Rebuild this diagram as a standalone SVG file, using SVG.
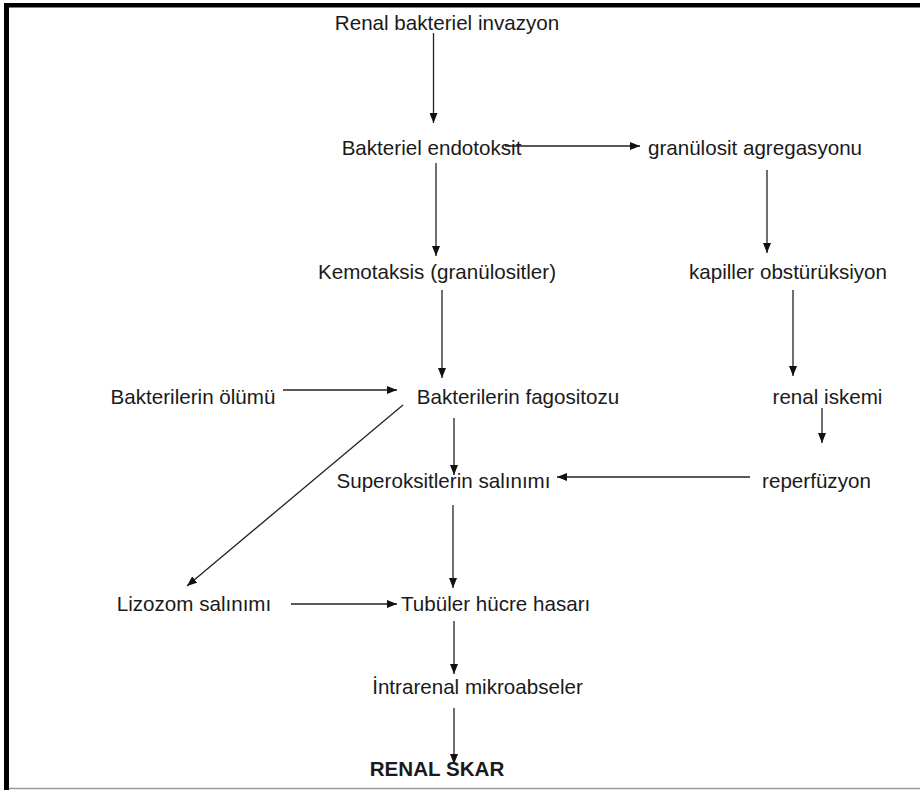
<svg xmlns="http://www.w3.org/2000/svg" width="920" height="790" viewBox="0 0 920 790">
<defs>
<marker id="ah" viewBox="0 0 10 8" refX="10" refY="4" markerWidth="10" markerHeight="8" markerUnits="userSpaceOnUse" orient="auto">
<path d="M0,0 L10,4 L0,8 Z" fill="#111"/>
</marker>
<style>
text{font-family:"Liberation Sans",Arial,sans-serif;font-size:20.6px;fill:#1a1a1a;}
.b{font-weight:bold;}
.c line{stroke:#222;stroke-width:1.3;marker-end:url(#ah);}
</style>
</defs>
<rect width="920" height="790" fill="#fff"/>
<g id="frame">
<rect x="4" y="3" width="916" height="4.5" fill="#000"/>
<rect x="4" y="3" width="5" height="787" fill="#000"/>
<line x1="9" y1="788.5" x2="920" y2="788.5" stroke="#999" stroke-width="1.5"/>
</g>
<g class="c" id="connectors">
<line x1="433.5" y1="33" x2="433.5" y2="123"/>
<line x1="505" y1="146" x2="640" y2="146"/>
<line x1="436" y1="163" x2="436" y2="256"/>
<line x1="767" y1="170" x2="767" y2="253"/>
<line x1="442" y1="290" x2="442" y2="378"/>
<line x1="793" y1="290" x2="793" y2="376"/>
<line x1="283" y1="390" x2="397" y2="390"/>
<line x1="822" y1="408" x2="822" y2="443"/>
<line x1="454" y1="418" x2="454" y2="475"/>
<line x1="750" y1="477" x2="557" y2="477"/>
<line x1="403" y1="405" x2="187" y2="586"/>
<line x1="453" y1="505" x2="453" y2="588"/>
<line x1="291" y1="604" x2="397" y2="604"/>
<line x1="454" y1="621" x2="454" y2="674"/>
<line x1="454" y1="708" x2="454" y2="764"/>
</g>
<g id="n1"><text x="447" y="30" text-anchor="middle">Renal bakteriel invazyon</text></g>
<g id="n2"><text x="431.5" y="155" text-anchor="middle">Bakteriel endotoksit</text></g>
<g id="n3"><text x="755" y="155" text-anchor="middle">granülosit agregasyonu</text></g>
<g id="n4"><text x="437" y="279" text-anchor="middle">Kemotaksis (granülositler)</text></g>
<g id="n5"><text x="788" y="279" text-anchor="middle">kapiller obstürüksiyon</text></g>
<g id="n6"><text x="193" y="404" text-anchor="middle">Bakterilerin ölümü</text></g>
<g id="n7"><text x="518" y="404" text-anchor="middle">Bakterilerin fagositozu</text></g>
<g id="n8"><text x="827.5" y="404" text-anchor="middle">renal iskemi</text></g>
<g id="n9"><text x="443.5" y="488" text-anchor="middle">Superoksitlerin salınımı</text></g>
<g id="n10"><text x="816.5" y="488" text-anchor="middle">reperfüzyon</text></g>
<g id="n11"><text x="194" y="611" text-anchor="middle">Lizozom salınımı</text></g>
<g id="n12"><text x="401" y="611">Tubüler hücre hasarı</text></g>
<g id="n13"><text x="477.5" y="694" text-anchor="middle">İntrarenal mikroabseler</text></g>
<g id="n14"><text class="b" x="437" y="776" text-anchor="middle">RENAL SKAR</text></g>
</svg>
